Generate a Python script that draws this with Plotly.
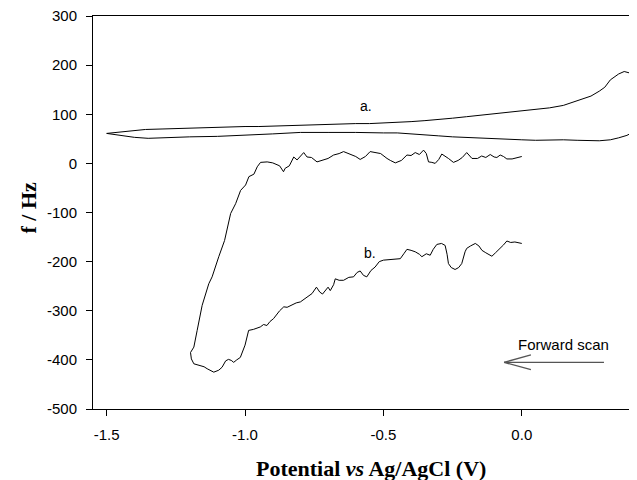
import plotly.graph_objects as go

# Curve a (closed loop): potential (V) and frequency (Hz)
a_potential = [-1.50, -1.45, -1.40, -1.36, -1.30, -1.25, -1.20, -1.15, -1.10, -1.05, -1.00,
               -0.95, -0.90, -0.85, -0.80, -0.75, -0.70, -0.65, -0.60, -0.55, -0.50, -0.45,
               -0.40, -0.35, -0.30, -0.25, -0.20, -0.15, -0.10, -0.05, 0.00, 0.05, 0.10,
               0.15, 0.20, 0.25, 0.28, 0.30, 0.32, 0.35, 0.37, 0.39, 0.40, 0.402,
               0.40, 0.38, 0.35, 0.32, 0.28, 0.24, 0.20, 0.15, 0.10, 0.05, 0.00, -0.05,
               -0.10, -0.15, -0.20, -0.25, -0.30, -0.35, -0.40, -0.45, -0.50, -0.55, -0.60,
               -0.70, -0.80, -0.90, -1.00, -1.10, -1.20, -1.30, -1.35, -1.40, -1.45, -1.50]
a_freq = [61, 64, 67, 69, 70, 71, 72, 72, 73, 74, 75,
          75, 76, 76, 78, 79, 80, 80, 81, 81, 82, 83,
          85, 87, 89, 92, 95, 98, 101, 104, 106, 109, 113,
          118, 127, 137, 147, 155, 170, 182, 187, 184, 170, 163,
          63, 57, 52, 48, 46, 46, 47, 48, 47, 47, 48, 49,
          50, 51, 52, 54, 56, 58, 61, 62, 62, 63, 63,
          63, 63, 60, 57, 55, 54, 52, 51, 53, 57, 61]

# Curve b
b_potential = [0.000, -0.020, -0.035, -0.054, -0.066, -0.078, -0.090, -0.100, -0.114, -0.130,
               -0.145, -0.160, -0.180, -0.199, -0.215, -0.230, -0.247, -0.265, -0.289, -0.300,
               -0.313, -0.325, -0.337, -0.345, -0.355, -0.370, -0.385, -0.400, -0.415, -0.435,
               -0.457, -0.475, -0.487, -0.510, -0.530, -0.548, -0.565, -0.584, -0.600, -0.620,
               -0.644, -0.660, -0.680, -0.700, -0.720, -0.740, -0.760, -0.776, -0.788, -0.800,
               -0.812, -0.824, -0.840, -0.855, -0.861, -0.875, -0.885, -0.900, -0.920, -0.935,
               -0.944, -0.956, -0.968, -0.986, -0.998, -1.016, -1.034, -1.052, -1.065, -1.074,
               -1.095, -1.119, -1.131, -1.155, -1.173, -1.185, -1.197, -1.194, -1.185, -1.170,
               -1.160, -1.148, -1.137, -1.125, -1.113, -1.095, -1.083, -1.070, -1.060, -1.050,
               -1.041, -1.030, -1.017, -1.000, -0.987, -0.970, -0.955, -0.945, -0.933, -0.921,
               -0.910, -0.897, -0.875, -0.860, -0.848, -0.830, -0.815, -0.800, -0.785, -0.770,
               -0.758, -0.742, -0.730, -0.720, -0.710, -0.700, -0.692, -0.680, -0.674, -0.660,
               -0.644, -0.625, -0.608, -0.595, -0.584, -0.572, -0.560, -0.545, -0.530, -0.515,
               -0.500, -0.480, -0.460, -0.439, -0.425, -0.415, -0.400, -0.385, -0.370, -0.361,
               -0.345, -0.331, -0.320, -0.307, -0.290, -0.277, -0.270, -0.265, -0.255, -0.241,
               -0.228, -0.217, -0.205, -0.199, -0.185, -0.168, -0.155, -0.144, -0.130, -0.120,
               -0.108, -0.095, -0.078, -0.066, -0.054, -0.040, -0.025, -0.012, 0.000]
b_freq = [14, 12, 9, 9, 14, 17, 12, 13, 18, 12,
          15, 10, 10, 22, 12, 6, 2, 10, 19, 8,
          0, 2, 3, 20, 27, 18, 22, 16, 17, 6,
          1, 6, 10, 20, 22, 24, 14, 8, 14, 18,
          24, 20, 17, 10, 6, 3, 12, 13, 22, 14,
          7, 13, -5, -10, -17, -5, -3, 1, 3, 3,
          2, -7, -22, -27, -44, -55, -82, -102, -136, -157,
          -190, -231, -245, -289, -340, -374, -385, -398, -408, -410,
          -412, -414, -418, -422, -425, -421, -415, -402, -399, -401,
          -405, -400, -395, -370, -340, -338, -335, -333, -328, -330,
          -322, -316, -300, -292, -293, -288, -284, -282, -276, -270,
          -265, -252, -262, -266, -258, -252, -259, -247, -235, -238,
          -238, -232, -231, -222, -219, -228, -231, -218, -211, -200,
          -197, -196, -196, -194, -183, -175, -177, -180, -185, -190,
          -184, -187, -175, -165, -163, -167, -185, -204, -212, -216,
          -212, -204, -180, -173, -168, -163, -168, -177, -182, -185,
          -189, -182, -173, -166, -158, -161, -160, -161, -163]

x_ticks = [-1.5, -1.0, -0.5, 0.0]
x_tick_labels = ["-1.5", "-1.0", "-0.5", "0.0"]
y_ticks = [300, 200, 100, 0, -100, -200, -300, -400, -500]
y_tick_labels = ["300", "200", "100", "0", "-100", "-200", "-300", "-400", "-500"]

x_title = "<b>Potential <i>vs</i> Ag/AgCl (V)</b>"
y_title = "<b>f / Hz</b>"

sans = "Liberation Sans, Arial, sans-serif"
serif = "Liberation Serif, Times New Roman, serif"

fig = go.Figure()
fig.add_trace(go.Scatter(x=a_potential, y=a_freq, mode="lines",
                         line=dict(color="black", width=1), showlegend=False))
fig.add_trace(go.Scatter(x=b_potential, y=b_freq, mode="lines",
                         line=dict(color="black", width=1), showlegend=False))

fig.add_annotation(x=-0.563, y=117, text="a.", showarrow=False,
                   font=dict(family=sans, size=14, color="black"))
fig.add_annotation(x=-0.547, y=-182, text="b.", showarrow=False,
                   font=dict(family=sans, size=14, color="black"))
fig.add_annotation(x=0.149, y=-369, text="Forward scan", showarrow=False,
                   font=dict(family=sans, size=15, color="black"))

# axis titles as annotations for precise placement
fig.add_annotation(xref="paper", yref="paper", x=0.5107, y=0, yshift=-59,
                   xanchor="center", yanchor="middle", text=x_title, showarrow=False,
                   font=dict(family=serif, size=22, color="black"))
fig.add_annotation(xref="paper", yref="paper", x=0, xshift=-64, y=0.5127,
                   xanchor="center", yanchor="middle", text=y_title, textangle=-90,
                   showarrow=False, font=dict(family=serif, size=22, color="black"))

# arrow (open head)
arrow_col = "#555555"
fig.add_shape(type="line", x0=0.297, y0=-405, x1=-0.064, y1=-405,
              line=dict(color=arrow_col, width=1.3))
fig.add_shape(type="line", x0=-0.064, y0=-405, x1=0.033, y1=-390,
              line=dict(color=arrow_col, width=1.3))
fig.add_shape(type="line", x0=-0.064, y0=-405, x1=0.033, y1=-420,
              line=dict(color=arrow_col, width=1.3))

fig.update_layout(
    width=629, height=472,
    margin=dict(l=85, r=0, t=8, b=71),
    paper_bgcolor="white", plot_bgcolor="white",
    font=dict(family=sans, size=15, color="black"),
    xaxis=dict(range=[-1.5494, 0.4163], tickvals=x_ticks, ticktext=x_tick_labels,
               showgrid=False, zeroline=False, showline=True, linecolor="black",
               linewidth=1, mirror=True, ticks="outside", ticklen=6, tickcolor="black",
               ticklabelstandoff=6, ticklabeloverflow="allow",
               tickfont=dict(family=sans, size=15, color="black")),
    yaxis=dict(range=[-500, 300], tickvals=y_ticks, ticktext=y_tick_labels,
               showgrid=False, zeroline=False, showline=True, linecolor="black",
               linewidth=1, mirror=False, ticks="outside", ticklen=6, tickcolor="black",
               ticklabelstandoff=6, ticklabeloverflow="allow",
               tickfont=dict(family=sans, size=15, color="black")),
)

fig.write_html("out.html")
